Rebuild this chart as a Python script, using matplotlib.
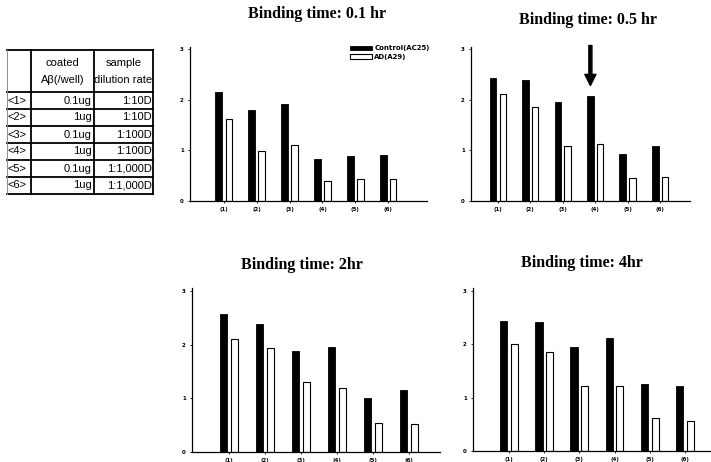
import numpy as np
import matplotlib
matplotlib.use('Agg')
import matplotlib.pyplot as plt

# values
groups = ['(1)', '(2)', '(3)', '(4)', '(5)', '(6)']
titles = ['Binding time: 0.1 hr', 'Binding time: 0.5 hr', 'Binding time: 2hr', 'Binding time: 4hr']
control_01 = [2.15, 1.79, 1.91, 0.83, 0.89, 0.90]
ad_01 = [1.62, 0.99, 1.10, 0.40, 0.43, 0.43]
control_05 = [2.43, 2.39, 1.96, 2.08, 0.93, 1.09]
ad_05 = [2.11, 1.85, 1.09, 1.13, 0.46, 0.48]
control_2 = [2.57, 2.39, 1.89, 1.96, 1.01, 1.15]
ad_2 = [2.11, 1.94, 1.30, 1.19, 0.54, 0.53]
control_4 = [2.44, 2.42, 1.95, 2.11, 1.26, 1.22]
ad_4 = [2.00, 1.85, 1.21, 1.22, 0.61, 0.57]
yticks = [0, 1, 2, 3]

# table on the left
tab_rows = ['<1>', '<2>', '<3>', '<4>', '<5>', '<6>']
tab_coated = ['0.1ug', '1ug', '0.1ug', '1ug', '0.1ug', '1ug']
tab_dilution = ['1:10D', '1:10D', '1:100D', '1:100D', '1:1,000D', '1:1,000D']

W, H = 711, 462
fig = plt.figure(figsize=(W / 100, H / 100), dpi=100)

def px_rect(left, right, y0, top):
    return [left / W, (H - y0) / H, (right - left) / W, (y0 - top) / H]

rects = [px_rect(190, 427, 201, 46.5), px_rect(471, 690, 201, 46.5),
         px_rect(192, 440, 452, 288.3), px_rect(473, 710, 451, 288.3)]
xlims = [(-0.03, 7.18), (0.17, 6.92), (-0.03, 6.86), (-0.02, 6.71)]
series = [(control_01, ad_01), (control_05, ad_05), (control_2, ad_2), (control_4, ad_4)]
title_pos = [(317, 14), (588, 20), (302, 265), (582, 263)]

x = np.arange(1, len(groups) + 1)
axes = []
for i in range(4):
    ax = fig.add_axes(rects[i])
    c, a = series[i]
    ax.bar(x - 0.15, c, 0.21, color='black', edgecolor='black', linewidth=0.6, label='Control(AC25)')
    ax.bar(x + 0.15, a, 0.2, color='white', edgecolor='black', linewidth=0.8, label='AD(A29)')
    ax.set_xlim(*xlims[i])
    ax.set_ylim(0, 3.05)
    ax.set_xticks(x)
    ax.set_xticklabels(groups)
    ax.set_yticks(yticks)
    ax.tick_params(labelsize=4, length=1.5, width=0.6, pad=3)
    for t in ax.get_xticklabels() + ax.get_yticklabels():
        t.set_fontweight('bold')
    for s in ['top', 'right']:
        ax.spines[s].set_visible(False)
    for s in ['left', 'bottom']:
        ax.spines[s].set_linewidth(0.9)
    ax.patch.set_alpha(0)
    tx, ty = title_pos[i]
    fig.text(tx / W, 1 - ty / H, titles[i], ha='center', va='center',
             family='Liberation Serif', fontweight='bold', fontsize=11.5)
    axes.append(ax)

leg = axes[0].legend(loc='upper left', bbox_to_anchor=(0.66, 1.03), frameon=False,
                     fontsize=5, handlelength=3.2, handleheight=0.6, borderpad=0,
                     labelspacing=0.35, handletextpad=0.3)
for t in leg.get_texts():
    t.set_fontweight('bold')

# arrow over group (4) in the 0.5 hr panel
axes[1].annotate('', xy=(4 - 0.15, 2.28), xytext=(4 - 0.15, 3.07), annotation_clip=False,
                 arrowprops=dict(width=2.2, headwidth=8, headlength=8, facecolor='black',
                                 edgecolor='black', shrink=0))

# table drawn in pixel coordinates
tax = fig.add_axes([0, 0, 1, 1])
tax.set_xlim(0, W)
tax.set_ylim(H, 0)
tax.axis('off')
cols = [7, 31, 94, 153]
rows = [50, 92] + [92 + 17 * (k + 1) for k in range(6)]
for k, yy in enumerate(rows):
    tax.plot([cols[0], cols[-1]], [yy, yy], color='black', lw=1.3)
for k, xx in enumerate(cols):
    tax.plot([xx, xx], [rows[0], rows[-1]], color='black' if k else '0.55', lw=1.3 if k else 0.7)

fs = 8
tax.text(62.5, 63, 'coated', ha='center', va='center', fontsize=fs, family='Liberation Sans')
tax.text(62.5, 80, 'Aβ(/well)', ha='center', va='center', fontsize=fs, family='Liberation Sans')
tax.text(123.5, 63, 'sample', ha='center', va='center', fontsize=fs, family='Liberation Sans')
tax.text(123.5, 80, 'dilution rate', ha='center', va='center', fontsize=fs, family='Liberation Sans')
for k in range(6):
    yy = rows[1] + 17 * k + 8.5
    tax.text(cols[0] + 1, yy, tab_rows[k], ha='left', va='center', fontsize=fs, family='Liberation Sans')
    tax.text(cols[2] - 2, yy, tab_coated[k], ha='right', va='center', fontsize=fs, family='Liberation Sans')
    tax.text(cols[3] - 1, yy, tab_dilution[k], ha='right', va='center', fontsize=fs, family='Liberation Sans')

fig.savefig('out.png', dpi=100)
